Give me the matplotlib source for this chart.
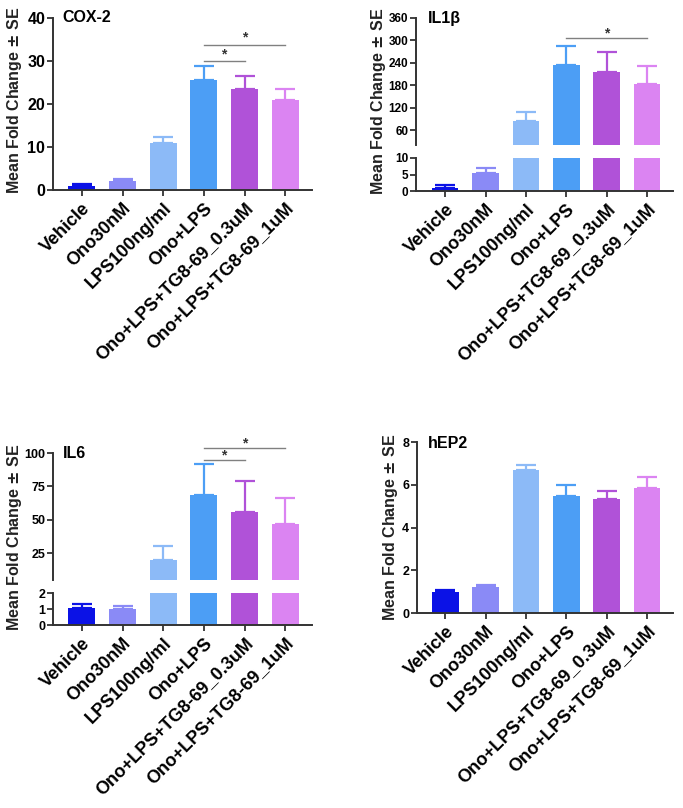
import numpy as np
import matplotlib
matplotlib.use('Agg')
import matplotlib.pyplot as plt

plt.rcParams['font.family'] = ['Liberation Sans', 'DejaVu Sans']
plt.rcParams['font.weight'] = 'bold'

groups = ['Vehicle', 'Ono30nM', 'LPS100ng/ml', 'Ono+LPS',
          'Ono+LPS+TG8-69_0.3uM', 'Ono+LPS+TG8-69_1uM']
colors = ['#0b12e6', '#8a8af6', '#8cbaf7', '#4c9ef5', '#b052d8', '#db84f2']

cox2_mean = [0.9, 2.1, 11.0, 25.5, 23.5, 21.0]
cox2_se = [0.6, 0.5, 1.4, 3.4, 2.9, 2.6]
il1b_mean = [1.0, 5.6, 84, 235, 216, 183]
il1b_se = [0.7, 1.3, 25, 51, 54, 49]
il6_mean = [1.07, 0.97, 20.0, 68.5, 55.5, 46.8]
il6_se = [0.23, 0.23, 10.7, 23.5, 23.2, 19.5]
hep2_mean = [0.98, 1.21, 6.71, 5.47, 5.31, 5.85]
hep2_se = [0.09, 0.08, 0.23, 0.51, 0.42, 0.49]

W, H = 683, 808
fig = plt.figure(figsize=(W / 100, H / 100), dpi=100)
x = np.arange(len(groups))
spine_c = '#333333'


def add_ax(l, t, r, b):
    return fig.add_axes([l / W, (H - b) / H, (r - l) / W, (b - t) / H])


def style(ax, lab_size, bottom=True):
    for s in ['top', 'right']:
        ax.spines[s].set_visible(False)
    for s in ['left', 'bottom']:
        ax.spines[s].set_color(spine_c)
        ax.spines[s].set_linewidth(1.4)
    ax.tick_params(axis='y', length=4, width=1.3, color=spine_c,
                   labelsize=lab_size, pad=1.5)
    if bottom:
        ax.tick_params(axis='x', length=4, width=1.3, color=spine_c, pad=3)
        ax.set_xticks(x)
        ax.set_xticklabels(groups, rotation=45, ha='right', va='top',
                           rotation_mode='anchor', fontsize=13, fontweight='bold')
    else:
        ax.spines['bottom'].set_visible(False)
        ax.set_xticks([])
    for t in ax.get_yticklabels():
        t.set_fontweight('bold')


def bars(ax, mean, se, xlim):
    ax.bar(x, mean, width=0.66, color=colors, edgecolor='none', zorder=2)
    for i in range(len(x)):
        ax.errorbar(x[i], mean[i], yerr=[[0], [se[i]]], color=colors[i],
                    capsize=7, elinewidth=1.6, capthick=1.6, zorder=1)
    ax.set_xlim(*xlim)


def sig(ax, x0, x1, y, ytxt):
    ax.plot([x0, x1], [y, y], color='#808080', lw=1.0, clip_on=False)
    ax.text((x0 + x1) / 2, ytxt, '*', ha='center', va='center',
            fontsize=10, color='#333333', clip_on=False)


ylab = 'Mean Fold Change $\\pm$ SE'
lab_kw = dict(rotation=90, ha='center', va='center', fontsize=11.5,
              fontweight='bold', color='#222222')

# COX-2
ax1 = add_ax(53, 18, 312, 190)
bars(ax1, cox2_mean, cox2_se, (-0.71, 5.66))
ax1.set_ylim(0, 40)
ax1.set_yticks([0, 10, 20, 30, 40])
style(ax1, 11.5)
sig(ax1, 3, 4, 29.9, 31.6)
sig(ax1, 3, 5, 33.8, 35.5)
fig.text(62 / W, 1 - 18 / H, 'COX-2', fontsize=11.5, fontweight='bold',
         ha='left', va='center')
fig.text(15 / W, 1 - 100 / H, ylab, **lab_kw)

# IL1b
ax2u = add_ax(416, 18, 673, 145)
ax2l = add_ax(416, 158, 673, 191)
bars(ax2u, il1b_mean, il1b_se, (-0.72, 5.64))
bars(ax2l, il1b_mean, il1b_se, (-0.72, 5.64))
ax2u.set_ylim(20, 360)
ax2u.set_yticks([60, 120, 180, 240, 300, 360])
ax2l.set_ylim(0, 10)
ax2l.set_yticks([0, 5, 10])
style(ax2u, 8.5, bottom=False)
style(ax2l, 8.5)
sig(ax2u, 3, 5, 306, 318)
fig.text(428 / W, 1 - 18 / H, 'IL1\u03b2', fontsize=11.5, fontweight='bold',
         ha='left', va='center')
fig.text(378 / W, 1 - 101 / H, ylab, **lab_kw)

# IL6
ax3u = add_ax(53, 453, 312, 580)
ax3l = add_ax(53, 593, 312, 625)
bars(ax3u, il6_mean, il6_se, (-0.71, 5.66))
bars(ax3l, il6_mean, il6_se, (-0.71, 5.66))
ax3u.set_ylim(5, 100)
ax3u.set_yticks([25, 50, 75, 100])
ax3l.set_ylim(0, 2)
ax3l.set_yticks([0, 1, 2])
style(ax3u, 9, bottom=False)
style(ax3l, 9)
sig(ax3u, 3, 4, 95, 98.5)
sig(ax3u, 3, 5, 103.75, 107.3)
fig.text(63 / W, 1 - 453 / H, 'IL6', fontsize=11.5, fontweight='bold',
         ha='left', va='center')
fig.text(15 / W, 1 - 537 / H, ylab, **lab_kw)

# hEP2
ax4 = add_ax(417, 442, 673, 613)
bars(ax4, hep2_mean, hep2_se, (-0.7, 5.64))
ax4.set_ylim(0, 8)
ax4.set_yticks([0, 2, 4, 6, 8])
style(ax4, 9)
fig.text(428 / W, 1 - 443 / H, 'hEP2', fontsize=11.5, fontweight='bold',
         ha='left', va='center')
fig.text(390 / W, 1 - 527 / H, ylab, **lab_kw)

fig.savefig('out.png', dpi=100)
